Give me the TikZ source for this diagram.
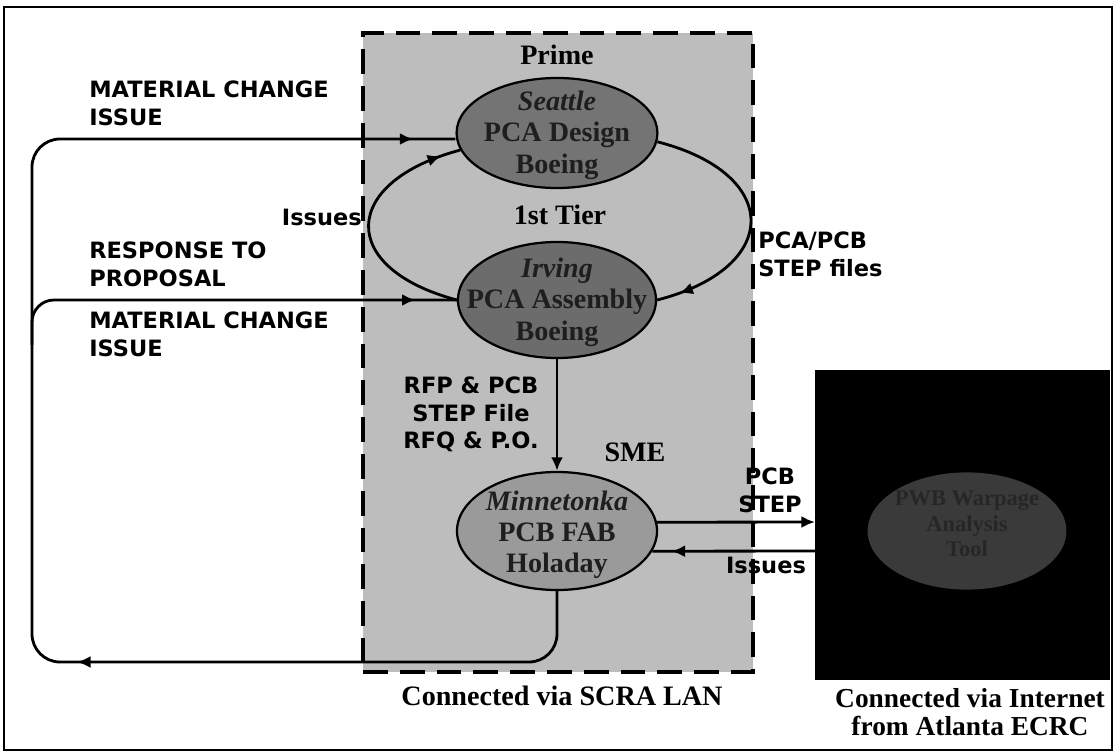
\documentclass[tikz,border=0pt]{standalone}
\usepackage{fontspec}
\setmainfont{Liberation Serif}
\newfontfamily\labfont{DejaVu Sans}
\usetikzlibrary{arrows.meta,decorations.markings,shapes.geometric}
\definecolor{boxgray}{HTML}{BDBDBD}
\definecolor{ellA}{HTML}{747474}
\definecolor{ellB}{HTML}{6C6C6C}
\definecolor{ellC}{HTML}{9A9A9A}
\definecolor{ellD}{HTML}{3A3A3A}
\definecolor{elltext}{HTML}{1E1E1E}
\begin{document}
\begin{tikzpicture}[x=0.025cm,y=-0.025cm,
  mytip/.tip={Latex[length=0.34cm,width=0.3cm]},
  conn/.style={line width=2pt, draw=black},
  tipend/.style={-{mytip}},
  marks/.style={postaction={decorate,decoration={markings,#1}}},
  ell/.style={ellipse, draw=black, line width=1.6pt, inner sep=0pt},
  elltxt/.style={font=\fontsize{20}{22.5}\selectfont\bfseries, align=center, text=elltext, inner sep=0pt},
  sans/.style={font=\labfont\bfseries\fontsize{16}{19.5}\selectfont, inner sep=0pt},
  serif/.style={font=\fontsize{20}{20}\selectfont\bfseries, inner sep=0pt, align=center},
]
\useasboundingbox (0,0) rectangle (1116,754);
\draw[line width=1.2pt] (4,7) rectangle (1112,750);

% containers
\node[draw=black, fill=boxgray, line width=2.8pt, dash pattern=on 0.62cm off 0.3cm,
      minimum width=9.75cm, minimum height=15.975cm, inner sep=0pt] (lan) at (558,352.5) {};
\node[fill=black, minimum width=7.375cm, minimum height=7.75cm, inner sep=0pt] (ecrc) at (962.5,525) {};

% ellipses
\node[ell, fill=ellA, minimum width=5.02cm, minimum height=2.75cm] (top) at (557,133) {};
\node[ell, fill=ellB, minimum width=4.95cm, minimum height=2.9cm] (mid) at (557,300) {};
\node[ell, fill=ellC, minimum width=5cm, minimum height=2.95cm] (sme) at (557,531) {};
\node[ellipse, fill=ellD, minimum width=4.97cm, minimum height=2.93cm, inner sep=0pt] (anal) at (967,531) {};

\node[elltxt] (toptxt) at (557,135) {\textit{Seattle}\\PCA Design\\Boeing};
\node[elltxt] (midtxt) at (557,302) {\textit{Irving}\\PCA Assembly\\Boeing};
\node[elltxt, font=\fontsize{20}{22}\selectfont\bfseries] (smetxt) at (557,535) {\textit{Minnetonka}\\PCB FAB\\Holaday};
\node[elltxt, text=black!85, font=\fontsize{16}{18}\selectfont\bfseries] (analtxt) at (967,524) {PWB Warpage\\Analysis\\Tool};

% coordinates for free ends
\coordinate (cbl) at (32,662);
\coordinate (br) at (32,345);
\coordinate (pin) at (815,522);
\coordinate (iout) at (815,551);

% connectors
\draw[conn, rounded corners=0.7cm,
      marks={mark=at position 13.47cm with {\arrow{mytip}}, mark=at position -1.05cm with {\arrow{mytip}}}]
  (sme.south) |- (cbl) |- ([yshift=-0.15cm]top.west);
\draw[conn, rounded corners=0.55cm,
      marks={mark=at position -1.03cm with {\arrow{mytip}}}]
  (br) |- (mid.west);
\draw[conn, marks={mark=at position -0.5cm with {\arrow{mytip}}}]
  (mid.west) .. controls +(-120,-32) and +(-120,32) .. (top.190);
\draw[conn, marks={mark=at position -0.58cm with {\arrow{mytip}}}]
  (top.355) .. controls +(125,32) and +(125,-32) .. (mid.east);
\draw[conn, tipend] (mid.south) -- (sme.north);
\draw[conn, tipend] (sme.5) -- (pin);
\draw[conn, marks={mark=at position -0.48cm with {\arrow{mytip}}}] (iout) -- (sme.-12);

% sans labels
\node[sans, anchor=north west, align=left] (lmc1) at (89,81) {MATERIAL CHANGE\\ISSUE};
\node[sans, anchor=north west, align=left] (lrtp) at (89,242) {RESPONSE TO\\PROPOSAL};
\node[sans, anchor=north west, align=left] (lmc2) at (89,312) {MATERIAL CHANGE\\ISSUE};
\node[sans, anchor=north east] (liss) at (362,209) {Issues};
\node[sans, anchor=north west, align=left] (lstep) at (758,232) {PCA/PCB\\STEP files};
\node[sans, anchor=north, align=center] (lrfp) at (471,377) {RFP \& PCB\\STEP File\\RFQ \& P.O.};
\node[sans, anchor=north, align=center] (lpcb) at (770,468) {PCB\\STEP};
\node[sans, anchor=north] (liss2) at (766,557) {Issues};

% serif labels
\node[serif] (lprime) at (557,55) {Prime};
\node[serif] (ltier) at (560,215) {1st Tier};
\node[serif] (lsme) at (635,452) {SME};
\node[serif] (llan) at (562,696) {Connected via SCRA LAN};
\node[serif, anchor=north, font=\fontsize{19.5}{20}\selectfont\bfseries] (lnet) at (970,688) {Connected via Internet\\from Atlanta ECRC};
\end{tikzpicture}
\end{document}
